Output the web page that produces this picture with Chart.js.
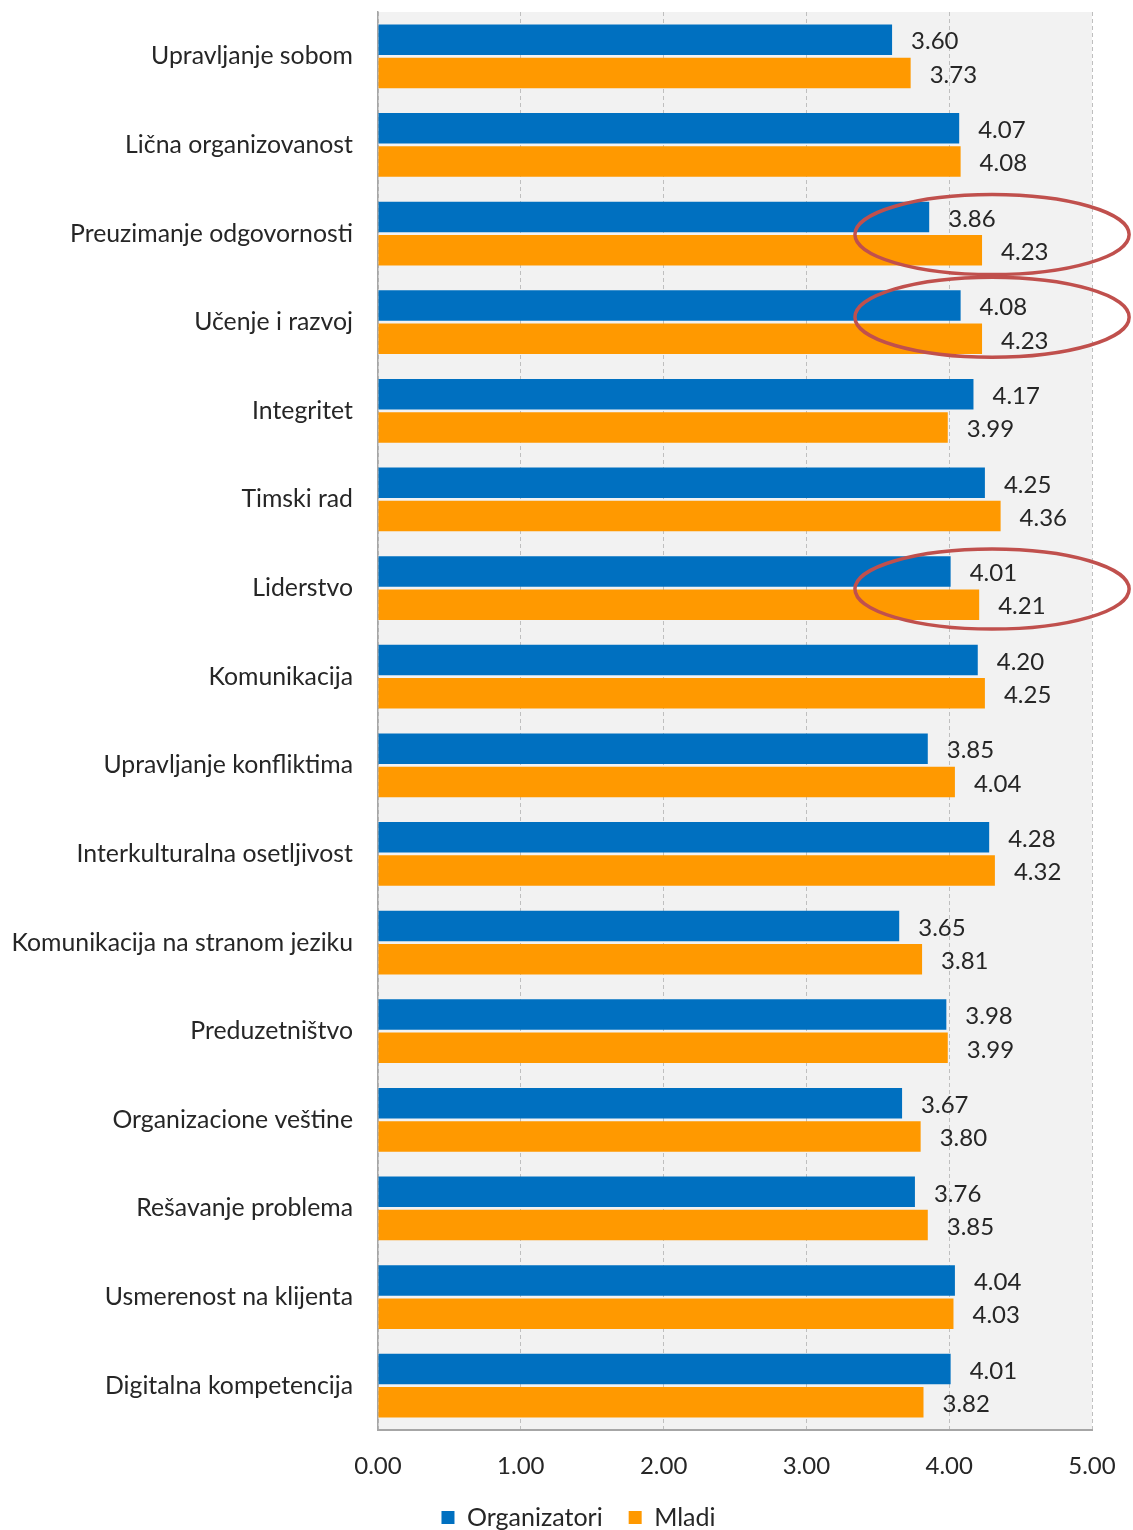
<!DOCTYPE html>
<html>
<head>
<meta charset="utf-8">
<script src="https://cdn.jsdelivr.net/npm/chart.js@4"></script>
<style>
  body { margin: 0; background: #fff; }
  #wrap { width: 1133px; height: 1530px; position: relative; }
</style>
</head>
<body>
<div id="wrap"><canvas id="chart"></canvas></div>
<script>
const categories = [
  "Upravljanje sobom",
  "Lična organizovanost",
  "Preuzimanje odgovornosti",
  "Učenje i razvoj",
  "Integritet",
  "Timski rad",
  "Liderstvo",
  "Komunikacija",
  "Upravljanje konfliktima",
  "Interkulturalna osetljivost",
  "Komunikacija na stranom jeziku",
  "Preduzetništvo",
  "Organizacione veštine",
  "Rešavanje problema",
  "Usmerenost na klijenta",
  "Digitalna kompetencija",
];
const organizatori = [3.60, 4.07, 3.86, 4.08, 4.17, 4.25, 4.01, 4.20, 3.85, 4.28, 3.65, 3.98, 3.67, 3.76, 4.04, 4.01];
const mladi = [3.73, 4.08, 4.23, 4.23, 3.99, 4.36, 4.21, 4.25, 4.04, 4.32, 3.81, 3.99, 3.80, 3.85, 4.03, 3.82];
const xTicks = [0, 1, 2, 3, 4, 5];
// categories that are circled in red
const highlighted = ["Preuzimanje odgovornosti", "Učenje i razvoj", "Liderstvo"];

const FONT = "Lato, 'Liberation Sans', sans-serif";

const plotBackground = {
  id: "plotBackground",
  beforeDraw(chart) {
    const { ctx, chartArea: a } = chart;
    ctx.save();
    ctx.fillStyle = "#f2f2f2";
    ctx.fillRect(a.left, a.top, a.right - a.left, a.bottom - a.top);
    ctx.restore();
  },
};

// legend in the original sits a bit right of centre
const legendShift = {
  id: "legendShift",
  afterLayout(chart) {
    if (chart.legend) {
      chart.legend.left += 12;
      chart.legend.right += 12;
    }
  },
};

const valueLabels = {
  id: "valueLabels",
  afterDatasetsDraw(chart) {
    const { ctx } = chart;
    ctx.save();
    ctx.font = "24px " + FONT;
    ctx.fillStyle = "#262626";
    ctx.textAlign = "left";
    ctx.textBaseline = "middle";
    chart.data.datasets.forEach((ds, di) => {
      chart.getDatasetMeta(di).data.forEach((bar, i) => {
        ctx.fillText(ds.data[i].toFixed(2), bar.x + 19, bar.y + 2);
      });
    });
    ctx.restore();
  },
};

const ellipses = {
  id: "ellipses",
  afterDraw(chart) {
    const { ctx } = chart;
    const x = chart.scales.x, y = chart.scales.y;
    ctx.save();
    ctx.strokeStyle = "#c0504d";
    ctx.lineWidth = 3.5;
    highlighted.forEach((name) => {
      const i = categories.indexOf(name);
      const cx = x.getPixelForValue(4.30);
      const rx = x.getPixelForValue(4.30) - x.getPixelForValue(3.34);
      const cy = y.getPixelForValue(i) + (i === 3 ? -5 : 1);
      ctx.beginPath();
      ctx.ellipse(cx, cy, rx, 40, 0, 0, Math.PI * 2);
      ctx.stroke();
    });
    ctx.restore();
  },
};

new Chart(document.getElementById("chart"), {
  type: "bar",
  data: {
    labels: categories,
    datasets: [
      { label: "Organizatori", data: organizatori, backgroundColor: "#0070c0", categoryPercentage: 0.75, barPercentage: 0.92 },
      { label: "Mladi", data: mladi, backgroundColor: "#ff9900", categoryPercentage: 0.75, barPercentage: 0.92 },
    ],
  },
  options: {
    indexAxis: "y",
    responsive: true,
    maintainAspectRatio: false,
    animation: false,
    layout: { padding: { top: 12, right: 0, left: 0, bottom: -10 } },
    scales: {
      x: {
        min: 0,
        max: 5,
        afterBuildTicks: (axis) => { axis.ticks = xTicks.map((v) => ({ value: v })); },
        afterFit: (axis) => {
          axis.height = 49;
          axis.paddingLeft = 0;
          axis.paddingRight = 41;
        },
        grid: {
          color: "#bfbfbf",
          drawTicks: false,
        },
        border: { display: true, color: "#a6a6a6", width: 2, dash: [4, 3] },
        ticks: {
          padding: 22,
          color: "#262626",
          font: { family: FONT, size: 24 },
          callback: (v) => Number(v).toFixed(2),
        },
      },
      y: {
        afterFit: (axis) => {
          axis.width = 378;
          axis.paddingTop = 0;
          axis.paddingBottom = 0;
        },
        grid: { display: false, drawTicks: false },
        border: { display: true, color: "#a6a6a6", width: 1.5 },
        ticks: {
          padding: 25,
          color: "#262626",
          font: { family: FONT, size: 24.8 },
        },
      },
    },
    plugins: {
      legend: {
        position: "bottom",
        labels: {
          boxWidth: 13,
          boxHeight: 13,
          padding: 26,
          color: "#262626",
          font: { family: FONT, size: 25 },
        },
      },
      tooltip: { enabled: false },
    },
  },
  plugins: [plotBackground, legendShift, valueLabels, ellipses],
});
</script>
</body>
</html>
